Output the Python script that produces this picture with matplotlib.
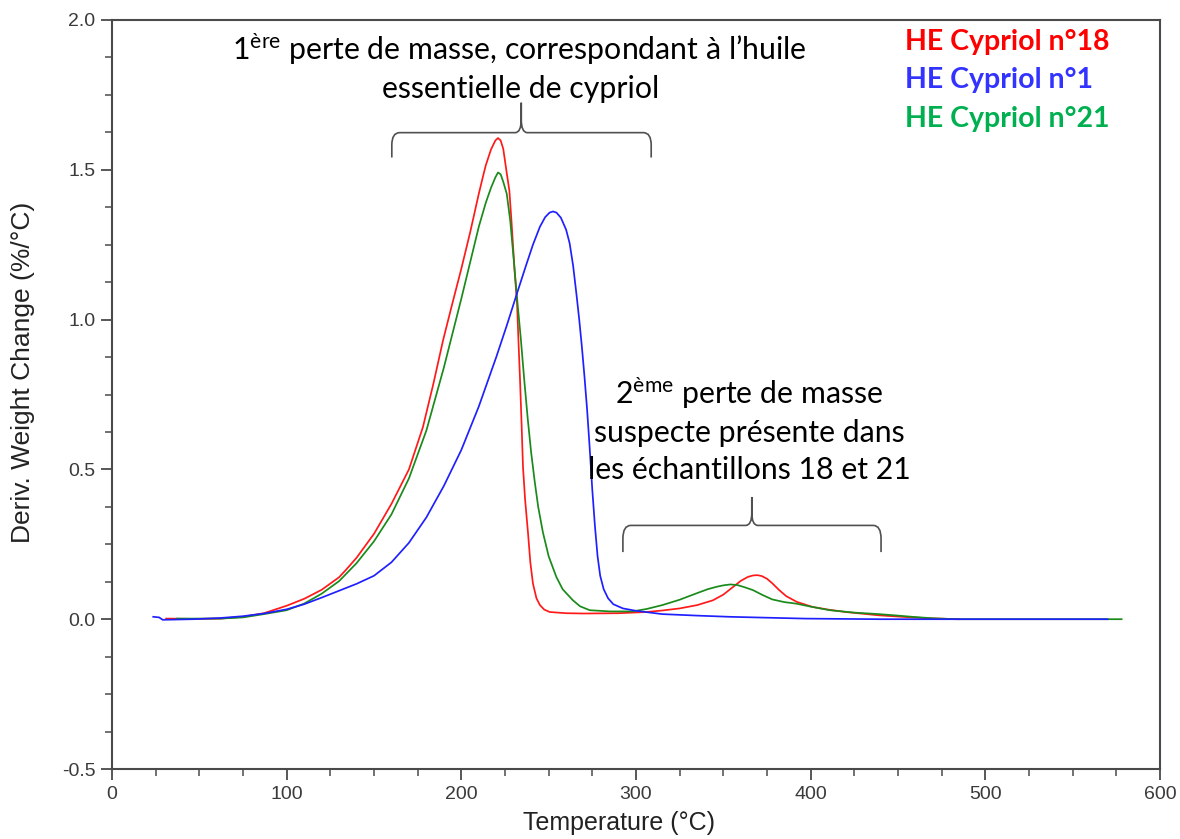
import matplotlib
matplotlib.use("Agg")
import matplotlib.pyplot as plt
from matplotlib.path import Path
from matplotlib.patches import PathPatch
from matplotlib.ticker import MultipleLocator, FormatStrFormatter

# ---------------- data ----------------
red_T = [31, 46, 62, 75, 87, 100, 110, 120, 125, 130, 134, 140, 150, 160,
         170, 178, 184, 189.5, 194.3, 200, 205, 210, 212.4, 214, 217,
         219.5, 221, 222.5, 224, 225.8, 227.5, 228.7, 230.5, 231.9, 232.7, 233.6, 234.5,
         235.3, 236.5, 238.2, 239.5, 241, 243, 245, 247.5, 250.6, 260, 270, 290, 306,
         315, 325, 335, 344, 350, 355, 360, 364, 367, 369.5, 372, 375, 378, 382, 386,
         392, 401, 410, 420, 439, 455, 468, 485]
red_V = [0.002, 0.001, 0.002, 0.008, 0.02, 0.045, 0.068, 0.098, 0.119, 0.14, 0.165, 0.205,
         0.285, 0.385, 0.50, 0.641, 0.786, 0.93, 1.041, 1.17, 1.29, 1.42, 1.478, 1.515,
         1.568, 1.598, 1.606, 1.598, 1.57, 1.497, 1.43, 1.33, 1.163, 1.053, 0.93, 0.80,
         0.65, 0.508, 0.40, 0.286, 0.19, 0.119, 0.07, 0.047, 0.032, 0.024, 0.02, 0.019,
         0.02, 0.024, 0.029, 0.036, 0.047, 0.063, 0.082, 0.105, 0.128, 0.141, 0.146,
         0.147, 0.144, 0.135, 0.12, 0.097, 0.077, 0.058, 0.041, 0.032, 0.024, 0.013,
         0.007, 0.003, 0.0]

blue_T = [23.6, 27, 29, 46.5, 62, 75, 87, 100, 110, 120, 130, 140, 150, 160, 170, 180,
          190, 200, 210, 220, 226, 232, 237, 241, 245, 248, 250.5, 252.5, 254.5, 257,
          260, 262, 264, 266, 267.5, 269, 270.5, 272, 273.5, 275, 276.5, 278, 279.5,
          281.5, 284, 287, 292.5, 300, 315, 335, 353.5, 397, 440, 570]
blue_V = [0.008, 0.006, -0.002, 0.0, 0.004, 0.01, 0.019, 0.033, 0.05, 0.072, 0.095,
          0.118, 0.145, 0.19, 0.255, 0.34, 0.445, 0.565, 0.71, 0.875, 0.98, 1.09, 1.18,
          1.25, 1.31, 1.342, 1.357, 1.361, 1.357, 1.34, 1.30, 1.255, 1.18, 1.08, 1.0,
          0.91, 0.81, 0.70, 0.57, 0.43, 0.31, 0.21, 0.145, 0.10, 0.07, 0.05, 0.036,
          0.028, 0.017, 0.012, 0.008, 0.002, 0.0, 0.0]

green_T = [37, 62, 75, 87, 100, 110, 120, 130, 140, 150, 160, 170, 180, 190, 200, 205,
           210, 214, 217, 219.5, 221, 222.5, 224, 226, 228, 230, 232, 234, 236, 238,
           240, 242, 244, 246.7, 250, 254.4, 258, 263.9, 268, 273.5, 285, 298, 306, 315,
           325, 334.5, 341, 346, 350, 354, 358, 362, 367, 372, 378, 385, 391.7, 400, 411,
           425, 439, 450, 458, 470, 483, 578]
green_V = [0.002, 0.002, 0.006, 0.017, 0.03, 0.052, 0.085, 0.127, 0.187, 0.26, 0.35,
           0.47, 0.63, 0.84, 1.07, 1.19, 1.31, 1.39, 1.44, 1.475, 1.491, 1.485, 1.46,
           1.42, 1.33, 1.2, 1.065, 0.94, 0.80, 0.67, 0.555, 0.46, 0.375, 0.29, 0.21,
           0.141, 0.10, 0.063, 0.043, 0.03, 0.026, 0.026, 0.034, 0.047, 0.065, 0.086,
           0.10, 0.108, 0.113, 0.116, 0.114, 0.107, 0.097, 0.082, 0.066, 0.057, 0.052,
           0.042, 0.030, 0.022, 0.017, 0.012, 0.008, 0.003, 0.0, 0.0]

series_labels = ["HE Cypriol n°18", "HE Cypriol n°1", "HE Cypriol n°21"]
x_ticks = [0, 100, 200, 300, 400, 500, 600]
y_ticks = [-0.5, 0.0, 0.5, 1.0, 1.5, 2.0]

# ---------------- styling ----------------
plt.rcParams['font.family'] = ['Liberation Sans', 'DejaVu Sans']
plt.rcParams['mathtext.fontset'] = 'custom'
plt.rcParams['mathtext.rm'] = 'Lato'
plt.rcParams['mathtext.it'] = 'Lato:italic'
plt.rcParams['mathtext.bf'] = 'Lato:bold'

W, H = 1180, 839
fig = plt.figure(figsize=(W / 100, H / 100), dpi=100)
ax = fig.add_axes([112 / W, 70 / H, 1048 / W, 749 / H])

ax.plot(red_T, red_V, color='#ff1a1a', lw=1.25)
ax.plot(green_T, green_V, color='#1a8a1a', lw=1.25)
ax.plot(blue_T, blue_V, color='#2020ff', lw=1.25)

ax.set_xlim(0, 600)
ax.set_ylim(-0.5, 2.0)
ax.set_xticks(x_ticks)
ax.set_yticks(y_ticks)
ax.xaxis.set_minor_locator(MultipleLocator(25))
ax.yaxis.set_minor_locator(MultipleLocator(0.125))
ax.yaxis.set_major_formatter(FormatStrFormatter('%.1f'))
ax.xaxis.set_major_formatter(FormatStrFormatter('%d'))

spine_c = '#4a4a4a'
for s in ax.spines.values():
    s.set_color(spine_c)
    s.set_linewidth(1.5)
ax.tick_params(which='major', direction='out', length=8, width=1.3, color=spine_c,
               labelsize=14, labelcolor='#3a3a3a', pad=4)
ax.tick_params(which='minor', direction='out', length=5, width=1.1, color=spine_c)

ax.set_xlabel('Temperature (°C)', fontsize=18, color='#222222')
ax.set_ylabel('Deriv. Weight Change (%/°C)', fontsize=19, color='#222222')
ax.xaxis.set_label_coords(0.484, -0.0721)
ax.xaxis.label.set_verticalalignment('center')
ax.yaxis.set_label_coords(-0.0735, 0.529)

# ---------------- legend-like labels ----------------
leg_colors = ['#ff0000', '#3333ff', '#00b050']
leg_y = [0.9706, 0.9199, 0.8678]
for lab, c, yy in zip(series_labels, leg_colors, leg_y):
    ax.text(0.7567, yy, lab, transform=ax.transAxes, color=c, fontsize=20.5,
            fontweight='bold', family=['Lato', 'DejaVu Sans'], ha='left', va='center')

# ---------------- annotations ----------------
ann_font = dict(family=['Lato', 'DejaVu Sans'], fontsize=21.8, color='black',
                ha='center', va='center')
ax.text(233.1, 1.903, "1$^{\\mathrm{ère}}$ perte de masse, correspondant à l’huile", **ann_font)
ax.text(234.0, 1.770, "essentielle de cypriol", **ann_font)
ax.text(365.0, 0.753, "2$^{\\mathrm{ème}}$ perte de masse", **ann_font)
ax.text(365.0, 0.620, "suspecte présente dans", **ann_font)
ax.text(365.0, 0.497, "les échantillons 18 et 21", **ann_font)


def brace(x0, x1, xc, yb, yh, yt, dx, dxc):
    ym = yh - 0.5 * (yh - yb)
    ys = yh + 0.45 * (yt - yh)
    verts = [(x0, yb), (x0, ym), (x0, yh), (x0 + dx, yh),
             (xc - dxc, yh), (xc, yh), (xc, ys), (xc, yt), (xc, ys),
             (xc, yh), (xc + dxc, yh), (x1 - dx, yh), (x1, yh), (x1, ym), (x1, yb)]
    codes = [Path.MOVETO, Path.LINETO, Path.CURVE3, Path.CURVE3,
             Path.LINETO, Path.CURVE3, Path.CURVE3, Path.LINETO, Path.LINETO,
             Path.CURVE3, Path.CURVE3, Path.LINETO, Path.CURVE3, Path.CURVE3, Path.LINETO]
    ax.add_patch(PathPatch(Path(verts, codes), fill=False, edgecolor='#505050', lw=1.2))


brace(160.2, 308.7, 234.3, 1.541, 1.624, 1.724, 4.5, 3.5)
brace(292.5, 440.3, 366.3, 0.224, 0.313, 0.408, 4.5, 3.5)

fig.savefig('out.png', dpi=100)
